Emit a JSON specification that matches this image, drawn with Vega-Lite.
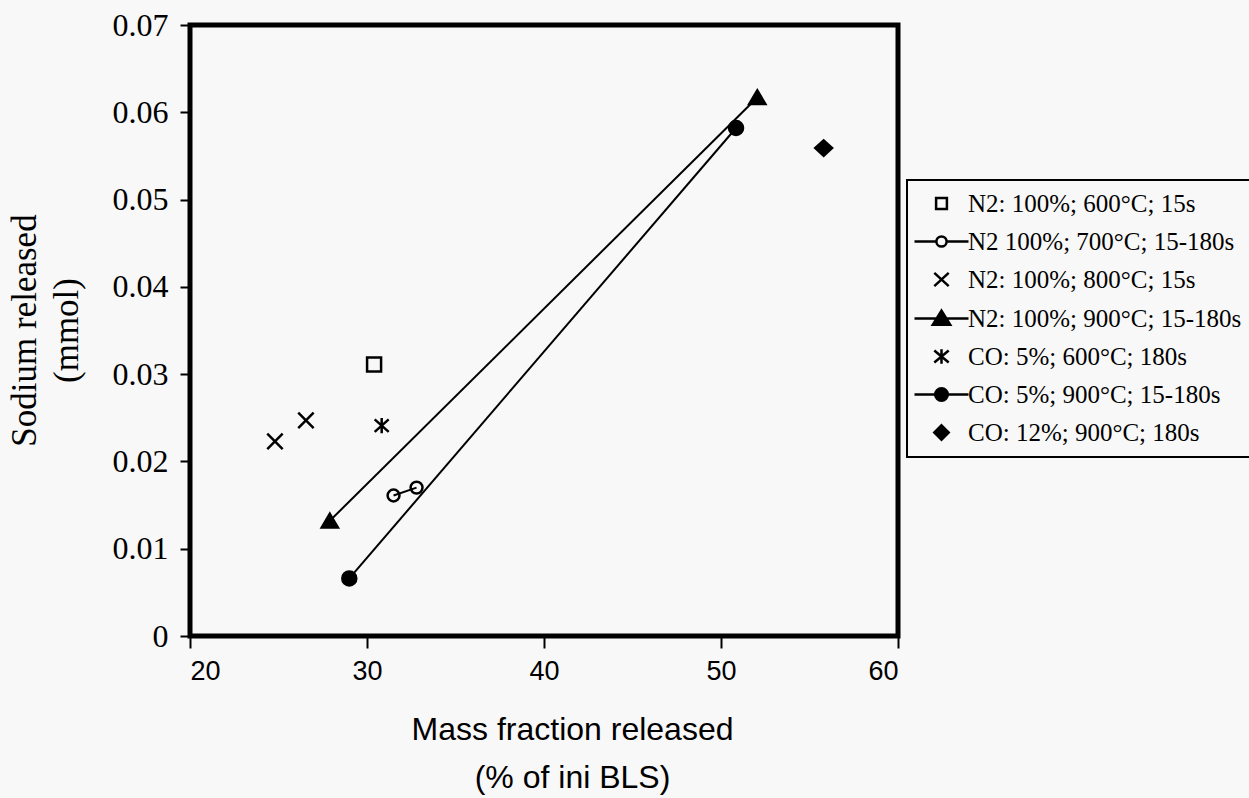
{
  "$schema": "https://vega.github.io/schema/vega-lite/v6.json",
  "width": 708,
  "height": 611,
  "autosize": {"type": "none"},
  "padding": {"left": 190, "top": 25, "right": 351, "bottom": 162},
  "background": "#f8f8f8",
  "config": {
    "view": {"stroke": "black", "strokeWidth": 5},
    "axis": {"grid": false, "domain": false, "tickColor": "black", "labelColor": "black", "titleColor": "black", "tickWidth": 2},
    "legend": {"strokeWidth": 2}
  },
  "data": {
    "values": [
      {"series": "N2: 100%; 600°C; 15s", "mass": 30.4, "sodium": 0.0311},
      {"series": "N2 100%; 700°C; 15-180s", "mass": 31.5, "sodium": 0.0161},
      {"series": "N2 100%; 700°C; 15-180s", "mass": 32.8, "sodium": 0.0170},
      {"series": "N2: 100%; 800°C; 15s", "mass": 24.8, "sodium": 0.0223},
      {"series": "N2: 100%; 800°C; 15s", "mass": 26.55, "sodium": 0.0247},
      {"series": "N2: 100%; 900°C; 15-180s", "mass": 27.9, "sodium": 0.0132},
      {"series": "N2: 100%; 900°C; 15-180s", "mass": 52.05, "sodium": 0.0617},
      {"series": "CO: 5%; 600°C; 180s", "mass": 30.83, "sodium": 0.0241},
      {"series": "CO: 5%; 900°C; 15-180s", "mass": 29.0, "sodium": 0.0066},
      {"series": "CO: 5%; 900°C; 15-180s", "mass": 50.85, "sodium": 0.0582},
      {"series": "CO: 12%; 900°C; 180s", "mass": 55.8, "sodium": 0.0559}
    ]
  },
  "layer": [
    {
      "transform": [{"filter": {"field": "series", "oneOf": ["N2 100%; 700°C; 15-180s", "N2: 100%; 900°C; 15-180s", "CO: 5%; 900°C; 15-180s"]}}],
      "mark": {"type": "line", "color": "black", "strokeWidth": 2},
      "encoding": {
        "x": {"field": "mass", "type": "quantitative", "scale": {"domain": [20, 60], "nice": false, "zero": false},
          "axis": {"values": [20, 30, 40, 50, 60], "labelFont": "Liberation Sans", "labelFontSize": 27, "tickSize": 12, "labelPadding": 10,
            "title": ["Mass fraction released", "(% of ini BLS)"], "titleFont": "Liberation Sans", "titleFontSize": 32, "titleFontWeight": "normal",
            "titleLineHeight": 48, "titleX": 382, "titleY": 103, "titleBaseline": "alphabetic", "titleAlign": "center"}},
        "y": {"field": "sodium", "type": "quantitative", "scale": {"domain": [0, 0.07], "nice": false, "zero": false},
          "axis": {"values": [0, 0.01, 0.02, 0.03, 0.04, 0.05, 0.06, 0.07], "format": ".2~f", "labelFont": "Liberation Serif", "labelFontSize": 32, "tickSize": 10, "labelPadding": 12,
            "title": ["Sodium released", "(mmol)"], "titleFont": "Liberation Serif", "titleFontSize": 35, "titleFontWeight": "normal",
            "titleLineHeight": 42, "titleAngle": -90, "titleX": -166, "titleY": 305, "titleAlign": "center", "titleBaseline": "middle"}},
        "detail": {"field": "series"}
      }
    },
    {
      "mark": {"type": "point", "filled": true, "size": 196, "stroke": "black", "strokeWidth": 2.5, "opacity": 1},
      "encoding": {
        "x": {"field": "mass", "type": "quantitative"},
        "y": {"field": "sodium", "type": "quantitative"},
        "shape": {"field": "series", "type": "nominal", "legend": null,
          "scale": {
            "domain": ["N2: 100%; 600°C; 15s", "N2 100%; 700°C; 15-180s", "N2: 100%; 800°C; 15s", "N2: 100%; 900°C; 15-180s", "CO: 5%; 600°C; 180s", "CO: 5%; 900°C; 15-180s", "CO: 12%; 900°C; 180s"],
            "range": [
              "M-1,-1H1V1H-1Z",
              "M-0.85,0A0.85,0.85,0,1,1,0.85,0A0.85,0.85,0,1,1,-0.85,0Z",
              "M-1.1,-1.1L1.1,1.1M-1.1,1.1L1.1,-1.1",
              "M0,-1L1.15,0.95L-1.15,0.95Z",
              "M-1,-0.9L1,0.9M-1,0.9L1,-0.9M0,-1.1V1.1",
              "M-1,0A1,1,0,1,1,1,0A1,1,0,1,1,-1,0Z",
              "M0,-1.1L1.2,0L0,1.1L-1.2,0Z"
            ]}},
        "fill": {"field": "series", "type": "nominal", "legend": null,
          "scale": {
            "domain": ["N2: 100%; 600°C; 15s", "N2 100%; 700°C; 15-180s", "N2: 100%; 800°C; 15s", "N2: 100%; 900°C; 15-180s", "CO: 5%; 600°C; 180s", "CO: 5%; 900°C; 15-180s", "CO: 12%; 900°C; 180s"],
            "range": ["transparent", "transparent", "black", "black", "black", "black", "black"]}}
      }
    },
    {
      "transform": [{"filter": "false"}],
      "mark": {"type": "point", "filled": true, "size": 144, "strokeWidth": 2.5, "opacity": 1},
      "encoding": {
        "x": {"field": "mass", "type": "quantitative"},
        "y": {"field": "sodium", "type": "quantitative"},
        "strokeWidth": {"value": 2.5},
        "shape": {"field": "series", "type": "nominal",
          "scale": {
            "domain": ["N2: 100%; 600°C; 15s", "N2 100%; 700°C; 15-180s", "N2: 100%; 800°C; 15s", "N2: 100%; 900°C; 15-180s", "CO: 5%; 600°C; 180s", "CO: 5%; 900°C; 15-180s", "CO: 12%; 900°C; 180s"],
            "range": [
              "M-0.9,-0.9H0.9V0.9H-0.9Z",
              "M-4.5,0H-0.85M0.85,0H4.5M-0.85,0A0.85,0.85,0,1,1,0.85,0A0.85,0.85,0,1,1,-0.85,0Z",
              "M-1.2,-1.1L1.2,1.1M-1.2,1.1L1.2,-1.1",
              "M-4.5,0H4.5M0,-1.3L1.45,1.05L-1.45,1.05Z",
              "M-1.2,-1L1.2,1M-1.2,1L1.2,-1M0,-1.2V1.2",
              "M-4.5,0H4.5M-1.05,0A1.05,1.05,0,1,1,1.05,0A1.05,1.05,0,1,1,-1.05,0Z",
              "M0,-1.2L1.2,0L0,1.2L-1.2,0Z"
            ]},
          "legend": {
            "title": null, "orient": "none", "legendX": 717, "legendY": 155,
            "labelFont": "Liberation Serif", "labelFontSize": 25, "labelColor": "black", "labelLimit": 0,
            "symbolSize": 144, "symbolStrokeWidth": 2.5,
            "symbolOffset": 11, "labelOffset": 14, "rowPadding": 12, "padding": 11,
            "strokeColor": "black"
          }},
        "fill": {"field": "series", "type": "nominal",
          "scale": {
            "domain": ["N2: 100%; 600°C; 15s", "N2 100%; 700°C; 15-180s", "N2: 100%; 800°C; 15s", "N2: 100%; 900°C; 15-180s", "CO: 5%; 600°C; 180s", "CO: 5%; 900°C; 15-180s", "CO: 12%; 900°C; 180s"],
            "range": ["transparent", "#f8f8f8", "black", "black", "black", "black", "black"]},
          "legend": {"title": null, "orient": "none", "legendX": 717, "legendY": 155}},
        "stroke": {"field": "series", "type": "nominal",
          "scale": {
            "domain": ["N2: 100%; 600°C; 15s", "N2 100%; 700°C; 15-180s", "N2: 100%; 800°C; 15s", "N2: 100%; 900°C; 15-180s", "CO: 5%; 600°C; 180s", "CO: 5%; 900°C; 15-180s", "CO: 12%; 900°C; 180s"],
            "range": ["black", "black", "black", "black", "black", "black", "black"]},
          "legend": {"title": null, "orient": "none", "legendX": 717, "legendY": 155}}
      }
    }
  ],
  "resolve": {"scale": {"shape": "independent", "fill": "independent", "stroke": "independent"}, "legend": {"shape": "independent", "fill": "independent", "stroke": "independent"}}
}
